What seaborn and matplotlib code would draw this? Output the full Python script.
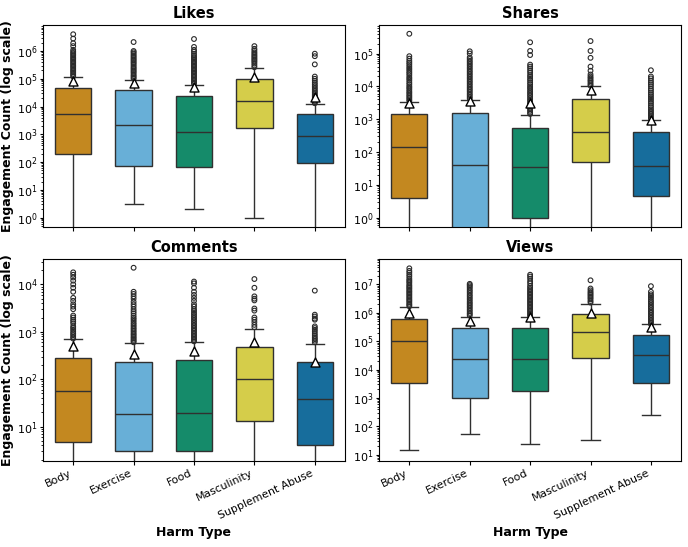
import matplotlib
matplotlib.use("Agg")
import matplotlib.pyplot as plt
import numpy as np
import pandas as pd
import seaborn as sns

categories = ["Body", "Exercise", "Food", "Masculinity", "Supplement Abuse"]
metrics = ["Likes", "Shares", "Comments", "Views"]

# ---- box statistics (per category) ----
likes_low = [0, 3, 2, 1, 0]
likes_q1 = [200, 75, 69, 1700, 91]
likes_median = [5500, 2100, 1200, 16500, 850]
likes_q3 = [46000, 38000, 24000, 102000, 5400]
likes_high = [114000, 94000, 59000, 236000, 12600]
likes_mean = [82000, 68000, 49000, 112000, 22000]
likes_fliers = [
    [1.2e5, 1.35e5, 1.5e5, 1.7e5, 1.9e5, 2.1e5, 2.4e5, 2.7e5, 3e5, 3.4e5, 3.8e5, 4.3e5, 4.8e5,
     5.4e5, 6e5, 6.8e5, 7.6e5, 8.5e5, 9.5e5, 1.1e6, 1.5e6, 1.9e6, 2.8e6, 4e6],
    [1e5, 1.12e5, 1.25e5, 1.4e5, 1.6e5, 1.8e5, 2e5, 2.25e5, 2.5e5, 2.8e5, 3.2e5, 3.6e5, 4e5,
     4.5e5, 5e5, 5.6e5, 6.3e5, 7e5, 8e5, 9e5, 1e6, 2.1e6],
    [6.6e4, 7.4e4, 8.3e4, 9.3e4, 1.05e5, 1.18e5, 1.32e5, 1.5e5, 1.7e5, 1.9e5, 2.1e5, 2.4e5, 2.7e5,
     3e5, 3.4e5, 3.8e5, 4.3e5, 4.8e5, 5.4e5, 6e5, 6.8e5, 8e5, 9.5e5, 1.1e6, 1.4e6, 2.7e6],
    [2.6e5, 3e5, 3.5e5, 4e5, 4.5e5, 5e5, 5.6e5, 6.3e5, 7e5, 8e5, 9e5, 1.05e6, 1.2e6, 1.5e6],
    [1.32e4, 1.45e4, 1.6e4, 1.8e4, 2e4, 2.25e4, 2.5e4, 2.8e4, 3.2e4, 3.6e4, 4.1e4, 4.7e4, 5.4e4,
     6.2e4, 7.2e4, 8.5e4, 1e5, 1.2e5, 3.3e5, 6.5e5, 8e5],
]

shares_low = [0, 0, 0, 0, 0]
shares_q1 = [4, 0, 1, 49, 4.6]
shares_median = [145, 39, 35, 400, 38]
shares_q3 = [1400, 1600, 550, 4100, 405]
shares_high = [3400, 3950, 1370, 10000, 980]
shares_mean = [3200, 3700, 3100, 8000, 950]
shares_fliers = [
    [3.6e3, 4e3, 4.5e3, 5e3, 5.6e3, 6.3e3, 7e3, 8e3, 9e3, 1e4, 1.15e4, 1.3e4, 1.5e4, 1.7e4, 1.9e4,
     2.2e4, 2.5e4, 2.8e4, 3.2e4, 3.6e4, 4.1e4, 4.7e4, 5.3e4, 6e4, 7e4, 8.3e4, 4e5],
    [4.3e3, 4.8e3, 5.4e3, 6e3, 6.8e3, 7.6e3, 8.5e3, 9.5e3, 1.07e4, 1.2e4, 1.35e4, 1.5e4, 1.7e4,
     1.9e4, 2.15e4, 2.4e4, 2.7e4, 3e4, 3.4e4, 3.8e4, 4.3e4, 4.8e4, 5.4e4, 6e4, 6.8e4, 7.6e4,
     1e5, 1.17e5],
    [1.45e3, 1.6e3, 1.8e3, 2e3, 2.25e3, 2.5e3, 2.8e3, 3.1e3, 3.5e3, 3.9e3, 4.4e3, 5e3, 5.6e3,
     6.3e3, 7e3, 8e3, 9e3, 1e4, 1.15e4, 1.3e4, 1.5e4, 1.7e4, 1.95e4, 2.2e4, 2.6e4, 3e4, 3.5e4,
     4e4, 4.6e4, 9e4, 1.2e5, 2.2e5],
    [1.05e4, 1.15e4, 1.3e4, 1.45e4, 1.6e4, 1.8e4, 2e4, 2.3e4, 3e4, 4e4, 7.4e4, 1.2e5, 2.4e5],
    [1.05e3, 1.15e3, 1.3e3, 1.45e3, 1.6e3, 1.8e3, 2e3, 2.3e3, 2.6e3, 3e3, 3.4e3, 3.9e3, 4.4e3,
     5e3, 5.7e3, 6.5e3, 7.5e3, 8.5e3, 1e4, 1.15e4, 1.3e4, 1.5e4, 1.75e4, 2e4, 3.1e4],
]

comments_low = [0, 0, 0, 0, 0]
comments_q1 = [4.8, 3, 3, 13, 4]
comments_median = [55, 18, 19, 103, 38]
comments_q3 = [283, 235, 250, 470, 225]
comments_high = [695, 570, 600, 1130, 550]
comments_mean = [490, 340, 390, 600, 230]
comments_fliers = [
    [720, 780, 850, 920, 1000, 1100, 1200, 1300, 1500, 1650, 1800, 2000, 2200, 3000, 3400, 3800,
     4500, 5200, 7000, 8500, 1e4, 1.2e4, 1.4e4, 1.6e4, 1.8e4],
    [600, 640, 680, 730, 780, 840, 900, 970, 1050, 1130, 1220, 1320, 1430, 1550, 1700, 1850, 2000,
     2200, 2450, 2700, 3000, 3400, 3800, 4300, 5000, 5600, 6300, 7000, 22500],
    [630, 670, 720, 770, 830, 890, 960, 1040, 1120, 1200, 1300, 1400, 1520, 1650, 1800, 1950, 2100,
     2300, 2500, 2750, 3000, 3400, 3800, 4500, 5200, 6000, 7000, 8500, 10500, 11500],
    [1250, 1400, 1600, 1800, 2000, 2800, 3100, 4600, 5000, 5600, 8500, 13000],
    [600, 650, 700, 750, 820, 900, 1000, 1100, 1200, 1300, 1800, 1900, 2100, 2300, 7400],
]

views_low = [15, 55, 25, 32, 250]
views_q1 = [3400, 1000, 1800, 26000, 3500]
views_median = [100000, 24000, 24000, 220000, 32000]
views_q3 = [630000, 300000, 300000, 900000, 165000]
views_high = [1550000, 740000, 720000, 2100000, 390000]
views_mean = [1000000, 500000, 700000, 1000000, 320000]
views_fliers = [
    [1.7e6, 1.9e6, 2.1e6, 2.4e6, 2.7e6, 3e6, 3.4e6, 3.8e6, 4.3e6, 4.8e6, 5.4e6, 6e6, 6.8e6, 7.6e6,
     8.5e6, 9.5e6, 1.1e7, 1.25e7, 1.4e7, 1.6e7, 1.9e7, 2.2e7, 2.6e7, 3e7, 3.7e7],
    [8e5, 9e5, 1e6, 1.15e6, 1.3e6, 1.5e6, 1.7e6, 1.95e6, 2.2e6, 2.5e6, 2.9e6, 3.3e6, 3.8e6, 4.3e6,
     5e6, 5.7e6, 6.5e6, 7.5e6, 8.5e6, 9.5e6, 1.05e7],
    [7.6e5, 8.5e5, 9.5e5, 1.07e6, 1.2e6, 1.35e6, 1.5e6, 1.7e6, 1.9e6, 2.15e6, 2.4e6, 2.7e6, 3e6,
     3.4e6, 3.8e6, 4.3e6, 4.8e6, 5.4e6, 6.1e6, 6.9e6, 7.8e6, 9e6, 1.1e7, 1.3e7, 1.6e7, 1.9e7, 2.2e7],
    [2.3e6, 2.6e6, 3e6, 3.4e6, 3.8e6, 4.3e6, 4.8e6, 5.4e6, 6.2e6, 7.2e6, 1.4e7],
    [4e5, 4.5e5, 5e5, 5.7e5, 6.5e5, 7.4e5, 8.5e5, 9.7e5, 1.1e6, 1.25e6, 1.45e6, 1.65e6, 1.9e6,
     2.2e6, 2.5e6, 2.9e6, 3.4e6, 3.9e6, 4.5e6, 5.5e6, 8.7e6],
]

ylims = {
    "Likes": (0.46, 8.9e6),
    "Shares": (0.52, 7.6e5),
    "Comments": (1.86, 3.5e4),
    "Views": (6.0, 8.1e7),
}

stats = {
    "Likes": (likes_low, likes_q1, likes_median, likes_q3, likes_high, likes_mean, likes_fliers),
    "Shares": (shares_low, shares_q1, shares_median, shares_q3, shares_high, shares_mean, shares_fliers),
    "Comments": (comments_low, comments_q1, comments_median, comments_q3, comments_high, comments_mean, comments_fliers),
    "Views": (views_low, views_q1, views_median, views_q3, views_high, views_mean, views_fliers),
}

cb = sns.color_palette("colorblind")
palette = dict(zip(categories, [cb[1], cb[9], cb[2], cb[8], cb[0]]))

fig, axes = plt.subplots(2, 2, figsize=(6.88, 5.47), dpi=100)
fig.subplots_adjust(left=0.0625, right=0.990, top=0.955, bottom=0.157,
                    wspace=0.113, hspace=0.156)

for ax, metric in zip(axes.flat, metrics):
    lo, q1, med, q3, hi, mean, fliers = stats[metric]
    rows = []
    for i, c in enumerate(categories):
        for v in (lo[i], q1[i], med[i], q3[i], hi[i]):
            rows.append((c, v))
    box_df = pd.DataFrame(rows, columns=["Harm Type", "value"])
    sns.boxplot(data=box_df, x="Harm Type", y="value", hue="Harm Type",
                order=categories, hue_order=categories, palette=palette,
                width=0.6, showfliers=False, legend=False, ax=ax)

    fl_df = pd.DataFrame([(c, v) for c, fl in zip(categories, fliers) for v in fl],
                         columns=["Harm Type", "value"])
    sns.stripplot(data=fl_df, x="Harm Type", y="value", order=categories,
                  jitter=False, marker="o", size=3.4, color="white",
                  facecolor="none", edgecolor="#2b2b2b", linewidth=0.8,
                  ax=ax, zorder=3)

    mean_df = pd.DataFrame({"Harm Type": categories, "value": mean})
    sns.stripplot(data=mean_df, x="Harm Type", y="value", order=categories,
                  jitter=False, marker="^", size=6.5, color="white",
                  edgecolor="black", linewidth=1.0, ax=ax, zorder=5)

    ax.set_yscale("log")
    ax.set_ylim(*ylims[metric])
    ax.set_xlim(-0.5, len(categories) - 0.5)
    ax.set_title(metric, fontsize=10.5, fontweight="bold", pad=5)
    ax.tick_params(axis="y", which="major", labelsize=8, length=2.5, pad=1.5)
    ax.tick_params(axis="y", which="minor", length=1.5)
    ax.tick_params(axis="x", length=3, pad=2)
    ax.set_xticks(range(len(categories)))
    for s in ax.spines.values():
        s.set_visible(True)
        s.set_color("black")

for ax in axes[0]:
    ax.set_xticklabels([])
    ax.set_xlabel("")
for ax in axes[1]:
    ax.set_xticklabels(categories, rotation=25, ha="right", fontsize=7.8)
    ax.set_xlabel("Harm Type", fontsize=9, fontweight="bold", labelpad=4)
for ax in axes[:, 0]:
    ax.set_ylabel("Engagement Count (log scale)", fontsize=9, fontweight="bold", labelpad=2)
for ax in axes[:, 1]:
    ax.set_ylabel("")

fig.savefig("out.png", dpi=100)
